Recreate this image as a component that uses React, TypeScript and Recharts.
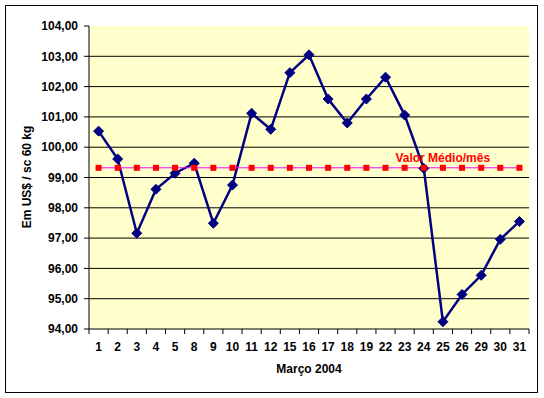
import { LineChart, Line, XAxis, YAxis, CartesianGrid } from 'recharts';

// dias úteis de março/2004
const days = ['1', '2', '3', '4', '5', '8', '9', '10', '11', '12', '15', '16', '17', '18', '19', '22', '23', '24', '25', '26', '29', '30', '31'];
// preço em US$ / saca de 60 kg
const prices = [
  100.53, 99.61, 97.16, 98.61, 99.14, 99.47, 97.49, 98.75, 101.12, 100.59, 102.46, 103.05,
  101.59, 100.8, 101.59, 102.31, 101.06, 99.3, 94.24, 95.14, 95.77, 96.96, 97.55,
];
const monthAverage = 99.32;
const yMin = 94;
const yMax = 104;
const yTicks = [94, 95, 96, 97, 98, 99, 100, 101, 102, 103, 104];
const gridValues = [95, 96, 97, 98, 99, 100, 101, 102, 103];
const averageLabel = 'Valor Médio/mês';
const averageLabelDay = '24';

const data = days.map((day, i) => ({ day, price: prices[i], average: monthAverage }));

const W = 544;
const H = 398;
const Y_AXIS_W = 89;
const RIGHT = 15;
const band = (W - Y_AXIS_W - RIGHT) / days.length;
const font = '"Liberation Sans", Arial, sans-serif';
const TICK_SIZE = 5;
const TICK_MARGIN = 8;

function DayTick(props: any) {
  const { x, y, payload, index } = props;
  const axisY = y - TICK_SIZE - TICK_MARGIN;
  const left = x - band / 2;
  const right = x + band / 2;
  return (
    <g>
      <line x1={left} x2={left} y1={axisY} y2={axisY + TICK_SIZE} stroke="#000" />
      {index === days.length - 1 && (
        <line x1={right} x2={right} y1={axisY} y2={axisY + TICK_SIZE} stroke="#000" />
      )}
      <text x={x} y={y} dy="0.71em" textAnchor="middle" fontSize={12} fontWeight="bold" fontFamily={font} fill="#000">
        {payload.value}
      </text>
    </g>
  );
}

function Diamond(props: any) {
  const { cx, cy } = props;
  if (cx == null || cy == null) return null;
  const s = 5;
  return (
    <polygon
      points={`${cx},${cy - s} ${cx + s},${cy} ${cx},${cy + s} ${cx - s},${cy}`}
      fill="#000080"
      stroke="#000080"
    />
  );
}

function Square(props: any) {
  const { cx, cy, payload } = props;
  if (cx == null || cy == null) return null;
  return (
    <g>
      <rect x={cx - 3} y={cy - 3} width={6} height={6} fill="#FF0000" />
      {payload.day === averageLabelDay && (
        <text x={cx + 19} y={cy - 6} textAnchor="middle" fontSize={12} fontWeight="bold" fontFamily={font} fill="#FF0000">
          {averageLabel}
        </text>
      )}
    </g>
  );
}

export default function App() {
  return (
    <div style={{ position: 'absolute', left: 0, top: 0, width: W, height: H, background: '#fff' }}>
      <div
        style={{
          position: 'absolute',
          left: 5,
          top: 5,
          width: 531,
          height: 386,
          border: '1px solid #000',
        }}
      />
      <div style={{ position: 'absolute', left: 0, top: 0 }}>
        <LineChart width={W} height={H} data={data} margin={{ top: 26, right: RIGHT, bottom: 39, left: 0 }}>
          <CartesianGrid
            vertical={false}
            fill="#FFFFCC"
            fillOpacity={1}
            stroke="#000"
            horizontalCoordinatesGenerator={({ offset }: any) =>
              gridValues.map((v) => offset.top + (offset.height * (yMax - v)) / (yMax - yMin))
            }
          />
          <XAxis
            dataKey="day"
            scale="band"
            interval={0}
            height={30}
            tickLine={false}
            tickSize={TICK_SIZE}
            tickMargin={TICK_MARGIN}
            tick={<DayTick />}
            axisLine={{ stroke: '#000' }}
          />
          <YAxis
            width={Y_AXIS_W}
            domain={[yMin, yMax]}
            ticks={yTicks}
            interval={0}
            tickSize={TICK_SIZE}
            tickMargin={6}
            tickFormatter={(v: number) => v.toFixed(2).replace('.', ',')}
            tick={{ fontSize: 12, fontWeight: 'bold', fill: '#000', fontFamily: font }}
            tickLine={{ stroke: '#000' }}
            axisLine={{ stroke: '#000' }}
          />
          <Line
            dataKey="price"
            stroke="#000080"
            strokeWidth={2.5}
            dot={<Diamond />}
            activeDot={false}
            isAnimationActive={false}
          />
          <Line
            dataKey="average"
            stroke="#FF00FF"
            strokeWidth={1}
            dot={<Square />}
            activeDot={false}
            isAnimationActive={false}
          />
        </LineChart>
      </div>
      <svg width={W} height={H} style={{ position: 'absolute', left: 0, top: 0, pointerEvents: 'none' }}>
        <text
          x={31}
          y={177}
          transform="rotate(-90 31 177)"
          textAnchor="middle"
          fontSize={12}
          fontWeight="bold"
          fontFamily={font}
          fill="#000"
        >
          Em US$ / sc 60 kg
        </text>
        <text x={309} y={373} textAnchor="middle" fontSize={12} fontWeight="bold" fontFamily={font} fill="#000">
          Março 2004
        </text>
      </svg>
    </div>
  );
}
